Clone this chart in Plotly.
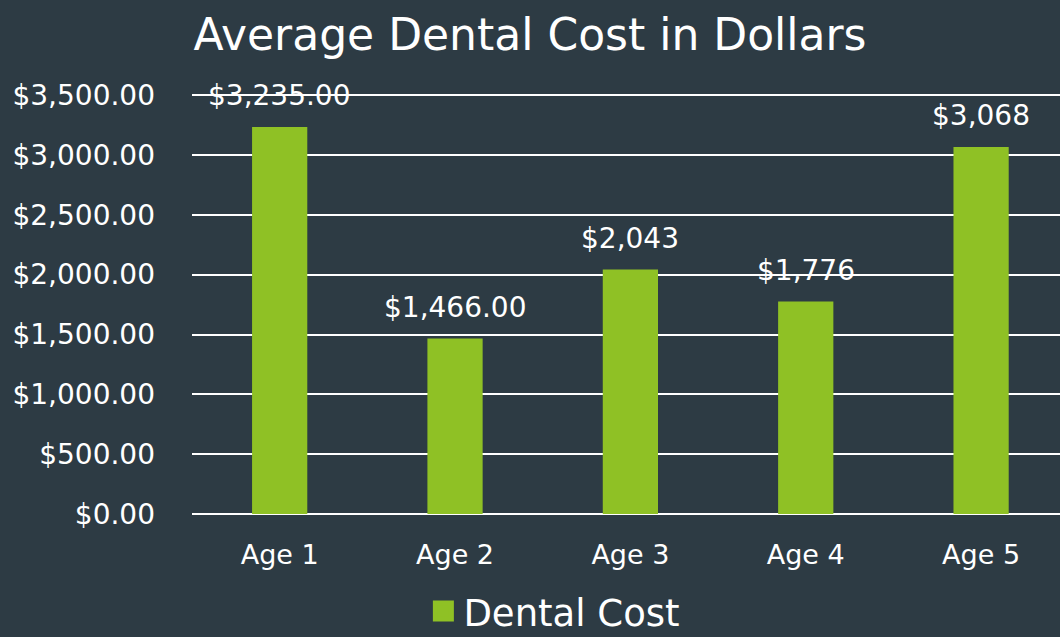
import plotly.graph_objects as go

# chart data
categories = ['Age 1', 'Age 2', 'Age 3', 'Age 4', 'Age 5']
dental_cost = [3235, 1466, 2043, 1776, 3068]
cost_labels = ['$3,235.00', '$1,466.00', '$2,043', '$1,776', '$3,068']
y_ticks = [0, 500, 1000, 1500, 2000, 2500, 3000, 3500]

bg = '#2d3b44'
green = '#8fc125'
font_family = 'DejaVu Sans'

fig = go.Figure()
fig.add_trace(go.Bar(
    x=categories, y=dental_cost, name='Dental Cost',
    marker=dict(color=green, line=dict(width=0)),
    width=0.315, showlegend=False,
))
# legend entry with a bigger square swatch
fig.add_trace(go.Scatter(
    x=[None], y=[None], mode='markers', name='Dental Cost',
    marker=dict(symbol='square', size=16, color=green,
                line=dict(color=green, width=5)),
))

# value labels sit a bit higher above the bars than plotly's outside text
for cat, val, lab in zip(categories, dental_cost, cost_labels):
    fig.add_annotation(x=cat, y=val, text=lab, showarrow=False,
                       yanchor='middle', yshift=31,
                       font=dict(size=28, color='white', family=font_family))

fig.update_layout(
    width=1060, height=637,
    paper_bgcolor=bg, plot_bgcolor=bg,
    margin=dict(l=192, r=0, t=94, b=123),
    font=dict(family=font_family, color='white'),
    title=dict(text='Average Dental Cost in Dollars', x=0.5, xanchor='center',
               y=0.945, yanchor='middle', font=dict(size=44, color='white')),
    showlegend=True,
    legend=dict(orientation='h', xref='container', x=0.523, xanchor='center',
                yref='container', y=0.04, yanchor='middle',
                font=dict(size=37, color='white'), bgcolor='rgba(0,0,0,0)',
                itemsizing='trace'),
)
fig.update_xaxes(range=[-0.5, 4.45], showgrid=False, showline=False, ticks='',
                 tickfont=dict(size=27, color='white'), ticklabelstandoff=22)
fig.update_yaxes(range=[0, 3510], tickvals=y_ticks, tickformat='$,.2f',
                 showgrid=True, gridcolor='white', gridwidth=2,
                 zeroline=True, zerolinecolor='white', zerolinewidth=2,
                 tickfont=dict(size=28, color='white'), ticklabelstandoff=36)

fig.write_html('out.html', config={'displayModeBar': False},
               post_script="document.body.style.margin='0';")
